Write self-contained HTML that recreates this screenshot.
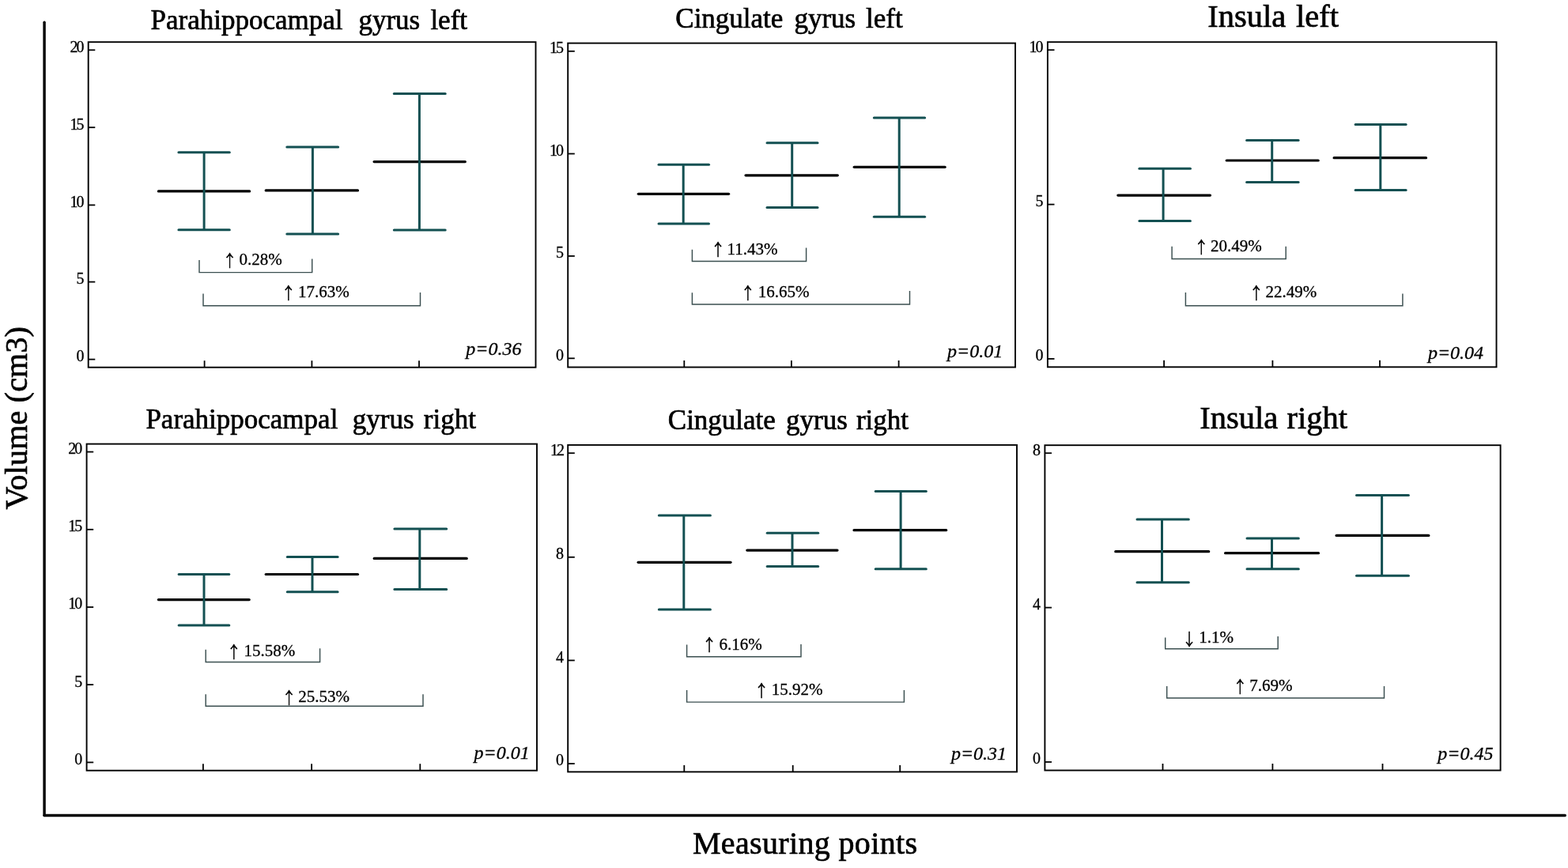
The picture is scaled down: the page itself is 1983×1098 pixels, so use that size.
<!DOCTYPE html>
<html><head><meta charset="utf-8"><title>Volume by measuring point</title>
<style>
html,body{margin:0;padding:0;background:#fff;overflow:hidden;width:1983px;height:1098px;}
svg{display:block;}
text{font-family:'Liberation Serif', 'Times New Roman', serif;fill:#000;stroke:#000;stroke-width:0.3px;}
.tt{stroke-width:0.7px;}
.ar{stroke-width:0.7px;}
</style></head>
<body>
<svg width="1983" height="1098" viewBox="0 0 1983 1098">
<rect width="1983" height="1098" fill="#fff"/>
<line x1="56.1" y1="28.3" x2="56.1" y2="1031.5" stroke="#000" stroke-width="3.4" stroke-linecap="round"/>
<line x1="56.1" y1="1031.5" x2="1979.3" y2="1031.5" stroke="#000" stroke-width="3.3" stroke-linecap="round"/>
<text transform="translate(34,644.5) rotate(-90)" font-size="40" letter-spacing="0.2" class="tt">Volume (cm3)</text>
<text x="875.9" y="1080.2" font-size="40" letter-spacing="0.35" class="tt">Measuring points</text>
<rect x="111.7" y="53.2" width="565.8" height="411.5" fill="none" stroke="#000" stroke-width="1.9"/>
<line x1="111.7" y1="63.3" x2="120.3" y2="63.3" stroke="#000" stroke-width="1.8"/>
<text x="88.4" y="65.7" font-size="20" letter-spacing="-2">20</text>
<line x1="111.7" y1="161.2" x2="120.3" y2="161.2" stroke="#000" stroke-width="1.8"/>
<text x="88.4" y="163.6" font-size="20" letter-spacing="-2">15</text>
<line x1="111.7" y1="259.4" x2="120.3" y2="259.4" stroke="#000" stroke-width="1.8"/>
<text x="88.4" y="261.8" font-size="20" letter-spacing="-2">10</text>
<line x1="111.7" y1="356.6" x2="120.3" y2="356.6" stroke="#000" stroke-width="1.8"/>
<text x="96.4" y="359" font-size="20">5</text>
<line x1="111.7" y1="454.6" x2="120.3" y2="454.6" stroke="#000" stroke-width="1.8"/>
<text x="96.4" y="457" font-size="20">0</text>
<line x1="258.6" y1="464.7" x2="258.6" y2="456.2" stroke="#000" stroke-width="1.8"/>
<line x1="394.4" y1="464.7" x2="394.4" y2="456.2" stroke="#000" stroke-width="1.8"/>
<line x1="530" y1="464.7" x2="530" y2="456.2" stroke="#000" stroke-width="1.8"/>
<line x1="200.4" y1="241.9" x2="315.6" y2="241.9" stroke="#000" stroke-width="3.2" stroke-linecap="round"/>
<line x1="258.1" y1="192.7" x2="258.1" y2="290.8" stroke="#135052" stroke-width="3"/>
<line x1="225.9" y1="192.7" x2="290.3" y2="192.7" stroke="#135052" stroke-width="3" stroke-linecap="round"/>
<line x1="225.9" y1="290.8" x2="290.3" y2="290.8" stroke="#135052" stroke-width="3" stroke-linecap="round"/>
<line x1="336.2" y1="240.9" x2="452.5" y2="240.9" stroke="#000" stroke-width="3.2" stroke-linecap="round"/>
<line x1="395.4" y1="186" x2="395.4" y2="296" stroke="#135052" stroke-width="3"/>
<line x1="362.8" y1="186" x2="427.6" y2="186" stroke="#135052" stroke-width="3" stroke-linecap="round"/>
<line x1="362.8" y1="296" x2="427.6" y2="296" stroke="#135052" stroke-width="3" stroke-linecap="round"/>
<line x1="473.1" y1="204.6" x2="588.3" y2="204.6" stroke="#000" stroke-width="3.2" stroke-linecap="round"/>
<line x1="530.4" y1="118.6" x2="530.4" y2="290.9" stroke="#135052" stroke-width="3"/>
<line x1="498.3" y1="118.6" x2="563.2" y2="118.6" stroke="#135052" stroke-width="3" stroke-linecap="round"/>
<line x1="498.3" y1="290.9" x2="563.2" y2="290.9" stroke="#135052" stroke-width="3" stroke-linecap="round"/>
<path d="M252 329V344.6H394.7V327.5" fill="none" stroke="#3b4f50" stroke-width="1.45"/>
<text transform="translate(281.9,337.9) scale(0.88,1.05)" font-size="19.5" class="ar" style="font-family:'Noto Serif CJK SC', 'Liberation Serif', serif">↑</text>
<text x="302.4" y="335.3" font-size="21">0.28%</text>
<path d="M257 371.5V386.7H531.5V370" fill="none" stroke="#3b4f50" stroke-width="1.45"/>
<text transform="translate(356.2,378.8) scale(0.88,1.05)" font-size="19.5" class="ar" style="font-family:'Noto Serif CJK SC', 'Liberation Serif', serif">↑</text>
<text x="377" y="376.2" font-size="21">17.63%</text>
<text x="589.2" y="448.7" font-size="24" font-style="italic">p=0.36</text>
<text x="190.6" y="36.9" font-size="35" class="tt">Parahippocampal</text>
<text x="453.4" y="36.9" font-size="35" class="tt">gyrus</text>
<text x="544.4" y="36.9" font-size="35" class="tt">left</text>
<rect x="718.2" y="54.6" width="565.8" height="409.9" fill="none" stroke="#000" stroke-width="1.9"/>
<line x1="718.2" y1="64.8" x2="726.8" y2="64.8" stroke="#000" stroke-width="1.8"/>
<text x="694.9" y="67.2" font-size="20" letter-spacing="-2">15</text>
<line x1="718.2" y1="194.5" x2="726.8" y2="194.5" stroke="#000" stroke-width="1.8"/>
<text x="694.9" y="196.9" font-size="20" letter-spacing="-2">10</text>
<line x1="718.2" y1="323.9" x2="726.8" y2="323.9" stroke="#000" stroke-width="1.8"/>
<text x="702.9" y="326.3" font-size="20">5</text>
<line x1="718.2" y1="453.3" x2="726.8" y2="453.3" stroke="#000" stroke-width="1.8"/>
<text x="702.9" y="455.7" font-size="20">0</text>
<line x1="865.3" y1="464.5" x2="865.3" y2="456" stroke="#000" stroke-width="1.8"/>
<line x1="1000.9" y1="464.5" x2="1000.9" y2="456" stroke="#000" stroke-width="1.8"/>
<line x1="1136.6" y1="464.5" x2="1136.6" y2="456" stroke="#000" stroke-width="1.8"/>
<line x1="807.3" y1="245.3" x2="921.6" y2="245.3" stroke="#000" stroke-width="3.2" stroke-linecap="round"/>
<line x1="864.2" y1="208.2" x2="864.2" y2="282.9" stroke="#135052" stroke-width="3"/>
<line x1="833" y1="208.2" x2="896.5" y2="208.2" stroke="#135052" stroke-width="3" stroke-linecap="round"/>
<line x1="833" y1="282.9" x2="896.5" y2="282.9" stroke="#135052" stroke-width="3" stroke-linecap="round"/>
<line x1="943" y1="221.8" x2="1059.3" y2="221.8" stroke="#000" stroke-width="3.2" stroke-linecap="round"/>
<line x1="1001.7" y1="180.8" x2="1001.7" y2="262.4" stroke="#135052" stroke-width="3"/>
<line x1="970" y1="180.8" x2="1034" y2="180.8" stroke="#135052" stroke-width="3" stroke-linecap="round"/>
<line x1="970" y1="262.4" x2="1034" y2="262.4" stroke="#135052" stroke-width="3" stroke-linecap="round"/>
<line x1="1080.2" y1="211.3" x2="1195.1" y2="211.3" stroke="#000" stroke-width="3.2" stroke-linecap="round"/>
<line x1="1137.2" y1="148.9" x2="1137.2" y2="274.3" stroke="#135052" stroke-width="3"/>
<line x1="1105.3" y1="148.9" x2="1169.6" y2="148.9" stroke="#135052" stroke-width="3" stroke-linecap="round"/>
<line x1="1105.3" y1="274.3" x2="1169.6" y2="274.3" stroke="#135052" stroke-width="3" stroke-linecap="round"/>
<path d="M875.4 315.7V330.5H1019.6V313.4" fill="none" stroke="#3b4f50" stroke-width="1.45"/>
<text transform="translate(899.5,324.4) scale(0.88,1.05)" font-size="19.5" class="ar" style="font-family:'Noto Serif CJK SC', 'Liberation Serif', serif">↑</text>
<text x="919.5" y="321.8" font-size="21">11.43%</text>
<path d="M875.4 370.2V385H1150.5V367.9" fill="none" stroke="#3b4f50" stroke-width="1.45"/>
<text transform="translate(937.3,378.5) scale(0.88,1.05)" font-size="19.5" class="ar" style="font-family:'Noto Serif CJK SC', 'Liberation Serif', serif">↑</text>
<text x="958.8" y="375.9" font-size="21">16.65%</text>
<text x="1198" y="451.8" font-size="24" font-style="italic">p=0.01</text>
<text x="854.3" y="34.7" font-size="35" class="tt">Cingulate</text>
<text x="1004.4" y="34.7" font-size="35" class="tt">gyrus</text>
<text x="1095" y="34.7" font-size="35" class="tt">left</text>
<rect x="1324.9" y="53.2" width="567.6" height="411.1" fill="none" stroke="#000" stroke-width="1.9"/>
<line x1="1324.9" y1="63.2" x2="1333.5" y2="63.2" stroke="#000" stroke-width="1.8"/>
<text x="1301.6" y="65.6" font-size="20" letter-spacing="-2">10</text>
<line x1="1324.9" y1="258.6" x2="1333.5" y2="258.6" stroke="#000" stroke-width="1.8"/>
<text x="1309.6" y="261" font-size="20">5</text>
<line x1="1324.9" y1="453.9" x2="1333.5" y2="453.9" stroke="#000" stroke-width="1.8"/>
<text x="1309.6" y="456.3" font-size="20">0</text>
<line x1="1472.1" y1="464.3" x2="1472.1" y2="455.8" stroke="#000" stroke-width="1.8"/>
<line x1="1609.4" y1="464.3" x2="1609.4" y2="455.8" stroke="#000" stroke-width="1.8"/>
<line x1="1745" y1="464.3" x2="1745" y2="455.8" stroke="#000" stroke-width="1.8"/>
<line x1="1413.8" y1="247.1" x2="1530.5" y2="247.1" stroke="#000" stroke-width="3.2" stroke-linecap="round"/>
<line x1="1471.1" y1="213.2" x2="1471.1" y2="279.6" stroke="#135052" stroke-width="3"/>
<line x1="1440.9" y1="213.2" x2="1505.4" y2="213.2" stroke="#135052" stroke-width="3" stroke-linecap="round"/>
<line x1="1440.9" y1="279.6" x2="1505.4" y2="279.6" stroke="#135052" stroke-width="3" stroke-linecap="round"/>
<line x1="1551.2" y1="203" x2="1667.2" y2="203" stroke="#000" stroke-width="3.2" stroke-linecap="round"/>
<line x1="1608.7" y1="177.6" x2="1608.7" y2="230.4" stroke="#135052" stroke-width="3"/>
<line x1="1576.6" y1="177.6" x2="1642.1" y2="177.6" stroke="#135052" stroke-width="3" stroke-linecap="round"/>
<line x1="1576.6" y1="230.4" x2="1642.1" y2="230.4" stroke="#135052" stroke-width="3" stroke-linecap="round"/>
<line x1="1687.1" y1="199.7" x2="1803.5" y2="199.7" stroke="#000" stroke-width="3.2" stroke-linecap="round"/>
<line x1="1745.8" y1="157.4" x2="1745.8" y2="240.4" stroke="#135052" stroke-width="3"/>
<line x1="1714.1" y1="157.4" x2="1778.1" y2="157.4" stroke="#135052" stroke-width="3" stroke-linecap="round"/>
<line x1="1714.1" y1="240.4" x2="1778.1" y2="240.4" stroke="#135052" stroke-width="3" stroke-linecap="round"/>
<path d="M1482.1 311.8V327.4H1626.2V311.8" fill="none" stroke="#3b4f50" stroke-width="1.45"/>
<text transform="translate(1510.8,320.8) scale(0.88,1.05)" font-size="19.5" class="ar" style="font-family:'Noto Serif CJK SC', 'Liberation Serif', serif">↑</text>
<text x="1531" y="318.2" font-size="21">20.49%</text>
<path d="M1499.4 369.9V386.8H1773.9V371.5" fill="none" stroke="#3b4f50" stroke-width="1.45"/>
<text transform="translate(1580.2,378.9) scale(0.88,1.05)" font-size="19.5" class="ar" style="font-family:'Noto Serif CJK SC', 'Liberation Serif', serif">↑</text>
<text x="1600.4" y="376.3" font-size="21">22.49%</text>
<text x="1805.9" y="453.6" font-size="24" font-style="italic">p=0.04</text>
<text x="1527.2" y="33.8" font-size="40.5" class="tt">Insula</text>
<text x="1639" y="33.8" font-size="40.5" class="tt">left</text>
<rect x="109.6" y="561.6" width="569.4" height="413.1" fill="none" stroke="#000" stroke-width="1.9"/>
<line x1="109.6" y1="571.6" x2="118.2" y2="571.6" stroke="#000" stroke-width="1.8"/>
<text x="86.3" y="574" font-size="20" letter-spacing="-2">20</text>
<line x1="109.6" y1="669.8" x2="118.2" y2="669.8" stroke="#000" stroke-width="1.8"/>
<text x="86.3" y="672.2" font-size="20" letter-spacing="-2">15</text>
<line x1="109.6" y1="768" x2="118.2" y2="768" stroke="#000" stroke-width="1.8"/>
<text x="86.3" y="770.4" font-size="20" letter-spacing="-2">10</text>
<line x1="109.6" y1="866.1" x2="118.2" y2="866.1" stroke="#000" stroke-width="1.8"/>
<text x="94.3" y="868.5" font-size="20">5</text>
<line x1="109.6" y1="964.4" x2="118.2" y2="964.4" stroke="#000" stroke-width="1.8"/>
<text x="94.3" y="966.8" font-size="20">0</text>
<line x1="256.9" y1="974.7" x2="256.9" y2="966.2" stroke="#000" stroke-width="1.8"/>
<line x1="394.1" y1="974.7" x2="394.1" y2="966.2" stroke="#000" stroke-width="1.8"/>
<line x1="531.3" y1="974.7" x2="531.3" y2="966.2" stroke="#000" stroke-width="1.8"/>
<line x1="200.4" y1="758.6" x2="315.2" y2="758.6" stroke="#000" stroke-width="3.2" stroke-linecap="round"/>
<line x1="258" y1="726.5" x2="258" y2="791.1" stroke="#135052" stroke-width="3"/>
<line x1="226.1" y1="726.5" x2="289.8" y2="726.5" stroke="#135052" stroke-width="3" stroke-linecap="round"/>
<line x1="226.1" y1="791.1" x2="289.8" y2="791.1" stroke="#135052" stroke-width="3" stroke-linecap="round"/>
<line x1="336.2" y1="726.5" x2="452.5" y2="726.5" stroke="#000" stroke-width="3.2" stroke-linecap="round"/>
<line x1="395" y1="704.6" x2="395" y2="748.8" stroke="#135052" stroke-width="3"/>
<line x1="363.3" y1="704.6" x2="427.1" y2="704.6" stroke="#135052" stroke-width="3" stroke-linecap="round"/>
<line x1="363.3" y1="748.8" x2="427.1" y2="748.8" stroke="#135052" stroke-width="3" stroke-linecap="round"/>
<line x1="473.2" y1="706.4" x2="590.2" y2="706.4" stroke="#000" stroke-width="3.2" stroke-linecap="round"/>
<line x1="530.8" y1="668.9" x2="530.8" y2="745.5" stroke="#135052" stroke-width="3"/>
<line x1="498.9" y1="668.9" x2="564.7" y2="668.9" stroke="#135052" stroke-width="3" stroke-linecap="round"/>
<line x1="498.9" y1="745.5" x2="564.7" y2="745.5" stroke="#135052" stroke-width="3" stroke-linecap="round"/>
<path d="M260.2 821.8V837.4H404.6V820.2" fill="none" stroke="#3b4f50" stroke-width="1.45"/>
<text transform="translate(287.2,832.9) scale(0.88,1.05)" font-size="19.5" class="ar" style="font-family:'Noto Serif CJK SC', 'Liberation Serif', serif">↑</text>
<text x="308.4" y="830.3" font-size="21">15.58%</text>
<path d="M260.2 878.3V893.3H535V878.3" fill="none" stroke="#3b4f50" stroke-width="1.45"/>
<text transform="translate(356.9,890.6) scale(0.88,1.05)" font-size="19.5" class="ar" style="font-family:'Noto Serif CJK SC', 'Liberation Serif', serif">↑</text>
<text x="377.2" y="888" font-size="21">25.53%</text>
<text x="599.5" y="960.3" font-size="24" font-style="italic">p=0.01</text>
<text x="184.4" y="541.8" font-size="35" class="tt">Parahippocampal</text>
<text x="445.8" y="541.8" font-size="35" class="tt">gyrus</text>
<text x="535.8" y="541.8" font-size="35" class="tt">right</text>
<rect x="718.2" y="562.9" width="567.8" height="413.5" fill="none" stroke="#000" stroke-width="1.9"/>
<line x1="718.2" y1="573.2" x2="726.8" y2="573.2" stroke="#000" stroke-width="1.8"/>
<text x="695.9" y="575.6" font-size="20" letter-spacing="-2">12</text>
<line x1="718.2" y1="704.8" x2="726.8" y2="704.8" stroke="#000" stroke-width="1.8"/>
<text x="702.9" y="707.2" font-size="20">8</text>
<line x1="718.2" y1="835.4" x2="726.8" y2="835.4" stroke="#000" stroke-width="1.8"/>
<text x="702.9" y="837.8" font-size="20">4</text>
<line x1="718.2" y1="966" x2="726.8" y2="966" stroke="#000" stroke-width="1.8"/>
<text x="702.9" y="968.4" font-size="20">0</text>
<line x1="865.3" y1="976.4" x2="865.3" y2="967.9" stroke="#000" stroke-width="1.8"/>
<line x1="1002.7" y1="976.4" x2="1002.7" y2="967.9" stroke="#000" stroke-width="1.8"/>
<line x1="1138.2" y1="976.4" x2="1138.2" y2="967.9" stroke="#000" stroke-width="1.8"/>
<line x1="807.1" y1="711.3" x2="924" y2="711.3" stroke="#000" stroke-width="3.2" stroke-linecap="round"/>
<line x1="864.8" y1="652.1" x2="864.8" y2="771" stroke="#135052" stroke-width="3"/>
<line x1="833.3" y1="652.1" x2="898.4" y2="652.1" stroke="#135052" stroke-width="3" stroke-linecap="round"/>
<line x1="833.3" y1="771" x2="898.4" y2="771" stroke="#135052" stroke-width="3" stroke-linecap="round"/>
<line x1="944.8" y1="696.1" x2="1059" y2="696.1" stroke="#000" stroke-width="3.2" stroke-linecap="round"/>
<line x1="1002" y1="674.3" x2="1002" y2="716.6" stroke="#135052" stroke-width="3"/>
<line x1="970.2" y1="674.3" x2="1034.7" y2="674.3" stroke="#135052" stroke-width="3" stroke-linecap="round"/>
<line x1="970.2" y1="716.6" x2="1034.7" y2="716.6" stroke="#135052" stroke-width="3" stroke-linecap="round"/>
<line x1="1080" y1="670.7" x2="1196.7" y2="670.7" stroke="#000" stroke-width="3.2" stroke-linecap="round"/>
<line x1="1139.1" y1="621.6" x2="1139.1" y2="719.8" stroke="#135052" stroke-width="3"/>
<line x1="1107.2" y1="621.6" x2="1171.3" y2="621.6" stroke="#135052" stroke-width="3" stroke-linecap="round"/>
<line x1="1107.2" y1="719.8" x2="1171.3" y2="719.8" stroke="#135052" stroke-width="3" stroke-linecap="round"/>
<path d="M868.6 815.5V830.7H1013V815" fill="none" stroke="#3b4f50" stroke-width="1.45"/>
<text transform="translate(888.4,824.1) scale(0.88,1.05)" font-size="19.5" class="ar" style="font-family:'Noto Serif CJK SC', 'Liberation Serif', serif">↑</text>
<text x="909.4" y="821.5" font-size="21">6.16%</text>
<path d="M868.6 873.1V888.1H1143.4V873.1" fill="none" stroke="#3b4f50" stroke-width="1.45"/>
<text transform="translate(954.5,881.7) scale(0.88,1.05)" font-size="19.5" class="ar" style="font-family:'Noto Serif CJK SC', 'Liberation Serif', serif">↑</text>
<text x="975.7" y="879.1" font-size="21">15.92%</text>
<text x="1202.9" y="960.6" font-size="24" font-style="italic">p=0.31</text>
<text x="844.8" y="543.1" font-size="35" class="tt">Cingulate</text>
<text x="994" y="543.1" font-size="35" class="tt">gyrus</text>
<text x="1082.9" y="543.1" font-size="35" class="tt">right</text>
<rect x="1321.4" y="563.2" width="576.2" height="411.3" fill="none" stroke="#000" stroke-width="1.9"/>
<line x1="1321.4" y1="573.2" x2="1330" y2="573.2" stroke="#000" stroke-width="1.8"/>
<text x="1306.1" y="575.6" font-size="20">8</text>
<line x1="1321.4" y1="768.6" x2="1330" y2="768.6" stroke="#000" stroke-width="1.8"/>
<text x="1306.1" y="771" font-size="20">4</text>
<line x1="1321.4" y1="963.9" x2="1330" y2="963.9" stroke="#000" stroke-width="1.8"/>
<text x="1306.1" y="966.3" font-size="20">0</text>
<line x1="1470.5" y1="974.5" x2="1470.5" y2="966" stroke="#000" stroke-width="1.8"/>
<line x1="1609.4" y1="974.5" x2="1609.4" y2="966" stroke="#000" stroke-width="1.8"/>
<line x1="1748.5" y1="974.5" x2="1748.5" y2="966" stroke="#000" stroke-width="1.8"/>
<line x1="1410.8" y1="697.7" x2="1528.7" y2="697.7" stroke="#000" stroke-width="3.2" stroke-linecap="round"/>
<line x1="1469.5" y1="657" x2="1469.5" y2="736.8" stroke="#135052" stroke-width="3"/>
<line x1="1438" y1="657" x2="1503.3" y2="657" stroke="#135052" stroke-width="3" stroke-linecap="round"/>
<line x1="1438" y1="736.8" x2="1503.3" y2="736.8" stroke="#135052" stroke-width="3" stroke-linecap="round"/>
<line x1="1549.6" y1="699.7" x2="1667.5" y2="699.7" stroke="#000" stroke-width="3.2" stroke-linecap="round"/>
<line x1="1608.5" y1="680.9" x2="1608.5" y2="719.7" stroke="#135052" stroke-width="3"/>
<line x1="1577" y1="680.9" x2="1642.3" y2="680.9" stroke="#135052" stroke-width="3" stroke-linecap="round"/>
<line x1="1577" y1="719.7" x2="1642.3" y2="719.7" stroke="#135052" stroke-width="3" stroke-linecap="round"/>
<line x1="1690.1" y1="677.4" x2="1806.8" y2="677.4" stroke="#000" stroke-width="3.2" stroke-linecap="round"/>
<line x1="1747.6" y1="626.6" x2="1747.6" y2="728.2" stroke="#135052" stroke-width="3"/>
<line x1="1715.5" y1="626.6" x2="1781.4" y2="626.6" stroke="#135052" stroke-width="3" stroke-linecap="round"/>
<line x1="1715.5" y1="728.2" x2="1781.4" y2="728.2" stroke="#135052" stroke-width="3" stroke-linecap="round"/>
<path d="M1473.7 806.6V820.7H1616.2V805" fill="none" stroke="#3b4f50" stroke-width="1.45"/>
<text transform="translate(1495.6,815.7) scale(0.88,1.05)" font-size="19.5" class="ar" style="font-family:'Noto Serif CJK SC', 'Liberation Serif', serif">↓</text>
<text x="1516.3" y="813.1" font-size="21">1.1%</text>
<path d="M1475.7 868V883H1750.5V868" fill="none" stroke="#3b4f50" stroke-width="1.45"/>
<text transform="translate(1559.7,876.7) scale(0.88,1.05)" font-size="19.5" class="ar" style="font-family:'Noto Serif CJK SC', 'Liberation Serif', serif">↑</text>
<text x="1580.3" y="874.1" font-size="21">7.69%</text>
<text x="1818.3" y="960.6" font-size="24" font-style="italic">p=0.45</text>
<text x="1517.3" y="542.2" font-size="40.5" class="tt">Insula</text>
<text x="1627.6" y="542.2" font-size="40.5" class="tt">right</text>
</svg>
</body></html>
